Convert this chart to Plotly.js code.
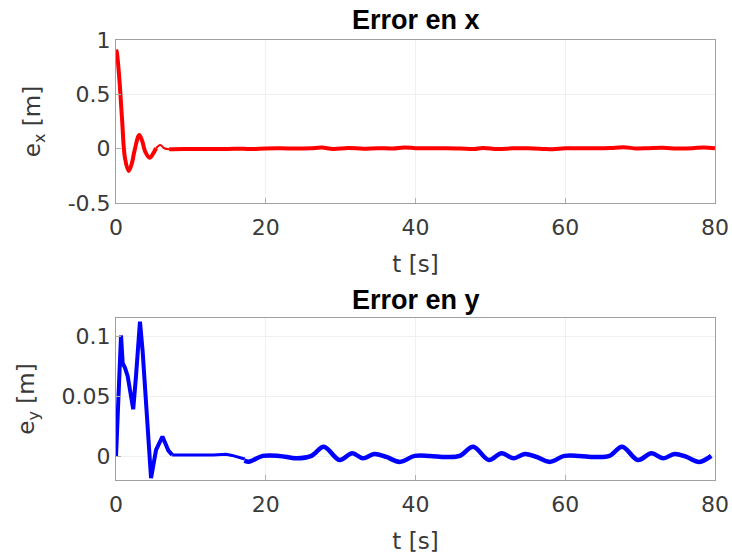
<!DOCTYPE html>
<html>
<head>
<meta charset="utf-8">
<script src="https://cdn.plot.ly/plotly-3.0.1.min.js"></script>
<style>html,body{margin:0;padding:0;background:#fff;}#chart{width:732px;height:558px;}</style>
</head>
<body>
<div id="chart"></div>
<script>
// ---- Error en x (red) ----
const exT1 = [0, 0.1, 0.44, 0.8, 1.2, 1.69, 2.1, 2.45, 3.1, 3.5, 3.9, 4.5, 5.0, 5.35];
const exV1 = [0.91, 0.89, 0.648, 0.28, -0.088, -0.205, -0.14, -0.027, 0.126, 0.07, -0.027, -0.083, -0.04, 0.004];
const exT2 = [5.35, 5.9, 6.45, 7.1];
const exV2 = [0.004, 0.034, 0.004, -0.006];
const exT3 = [7.1, 9, 11, 13, 15, 17, 18, 20, 22, 24, 26, 27.5, 29, 31, 33, 35, 37, 38.5, 40, 42, 44, 46, 47.8, 49, 51, 53, 55, 57, 58.3, 60, 62, 64, 66, 67.8, 69.5, 71, 73, 75, 77, 78.5, 80];
const exV3 = [-0.006, -0.004, -0.004, -0.003, -0.002, 0.0, -0.004, 0.002, 0.003, 0.001, 0.004, 0.010, -0.003, 0.006, 0.000, 0.005, 0.002, 0.012, 0.004, 0.003, 0.004, 0.002, -0.004, 0.006, -0.004, 0.004, 0.003, -0.002, -0.006, 0.003, 0.004, 0.003, 0.006, 0.013, 0.002, 0.004, 0.008, 0.002, 0.005, 0.012, 0.003];

// ---- Error en y (blue) ----
const eyT1 = [0, 0.67, 0.89, 1.2, 1.56, 2.3, 2.67, 3.2, 3.56, 4.1, 4.68, 5.35, 6.2, 7.0, 7.5];
const eyV1 = [0, 0.101, 0.078, 0.074, 0.067, 0.0395, 0.067, 0.1125, 0.0875, 0.0306, -0.018, 0.0056, 0.0167, 0.005, 0.0014];
const eyT2 = [7.5, 9, 11, 13, 14.7, 15.5, 16.5, 17.2];
const eyV2 = [0.0014, 0.0012, 0.0014, 0.0014, 0.002, 0.001, -0.001, -0.002];
const eyT3 = [17.15, 17.8, 19.6, 21.8, 24.1, 26.1, 27.75, 29.85, 31.55, 32.97, 34.5, 36.1, 37.9, 39.9, 41.9, 44.1, 45.9, 47.7, 49.8, 51.5, 53.1, 54.6, 56.15, 57.9, 59.9, 61.9, 63.9, 65.9, 67.6, 69.7, 71.5, 73.1, 74.6, 76.2, 77.9, 79.5];
const eyV3 = [-0.0033, -0.0042, 0.0006, 0.0006, -0.0014, 0.0006, 0.0083, -0.0028, 0.0028, -0.0014, 0.0022, -0.0003, -0.0044, 0.0006, 0.0006, -0.0003, 0.0006, 0.0083, -0.0028, 0.0028, -0.0014, 0.0022, -0.0003, -0.0044, 0.0006, 0.0006, -0.0003, 0.0006, 0.0083, -0.0028, 0.0028, -0.0014, 0.0022, -0.0003, -0.0044, 0.0006];

// ---- ticks ----
const xTickVals = [0, 20, 40, 60, 80];
const xTickText = ['0', '20', '40', '60', '80'];
const yxTickVals = [-0.5, 0, 0.5, 1];
const yxTickText = ['-0.5', '0', '0.5', '1'];
const yyTickVals = [0, 0.05, 0.1];
const yyTickText = ['0', '0.05', '0.1'];

const RED = '#ff0000', BLUE = '#0000ff';
const traces = [
  {x: exT1, y: exV1, mode: 'lines', line: {color: RED, width: 4, shape: 'spline'}, xaxis: 'x', yaxis: 'y'},
  {x: exT2, y: exV2, mode: 'lines', line: {color: RED, width: 2, shape: 'spline'}, xaxis: 'x', yaxis: 'y'},
  {x: exT3, y: exV3, mode: 'lines', line: {color: RED, width: 4, shape: 'spline'}, xaxis: 'x', yaxis: 'y'},
  {x: eyT1, y: eyV1, mode: 'lines', line: {color: BLUE, width: 4}, xaxis: 'x2', yaxis: 'y2'},
  {x: eyT2, y: eyV2, mode: 'lines', line: {color: BLUE, width: 3}, xaxis: 'x2', yaxis: 'y2'},
  {x: eyT3, y: eyV3, mode: 'lines', line: {color: BLUE, width: 4.5, shape: 'spline'}, xaxis: 'x2', yaxis: 'y2'}
];

const tickFont = {family: 'DejaVu Sans', size: 22, color: '#3a3a3a'};
const titleFont = {family: 'DejaVu Sans', size: 23, color: '#3a3a3a'};
function xax(anchor) {
  return {
    domain: [0, 1], anchor: anchor, range: [0, 80], tickvals: xTickVals, ticktext: xTickText,
    ticks: 'inside', ticklen: 5, tickcolor: '#b0b0b0', showgrid: true, gridcolor: '#f0f0f0',
    showline: true, linecolor: '#a0a0a0', linewidth: 1, mirror: true, zeroline: false,
    ticklabelstandoff: 5,
    tickfont: tickFont, title: {text: 't [s]', font: titleFont, standoff: 16}
  };
}
function yax(anchor, dom, rng, tv, tt, label) {
  return {
    domain: dom, anchor: anchor, range: rng, tickvals: tv, ticktext: tt,
    ticks: 'inside', ticklen: 5, tickcolor: '#b0b0b0', showgrid: true, gridcolor: '#f0f0f0',
    showline: true, linecolor: '#a0a0a0', linewidth: 1, mirror: true, zeroline: false,
    tickfont: tickFont, title: {text: label, font: titleFont, standoff: 20}
  };
}

const layout = {
  width: 732, height: 558,
  margin: {l: 116, r: 17, t: 40, b: 78},
  paper_bgcolor: '#ffffff', plot_bgcolor: '#ffffff',
  showlegend: false,
  xaxis: xax('y'),
  yaxis: yax('x', [0.6295, 1], [-0.5, 1], yxTickVals, yxTickText, 'e<sub>x</sub> [m]'),
  xaxis2: xax('y2'),
  yaxis2: yax('x2', [0, 0.368], [-0.0195, 0.1155], yyTickVals, yyTickText, 'e<sub>y</sub> [m]'),
  annotations: [
    {text: '<b>Error en x</b>', xref: 'paper', yref: 'paper', x: 0.5, y: 1.045, xanchor: 'center', yanchor: 'middle', showarrow: false,
     font: {family: 'Liberation Sans', size: 27, color: '#000000'}},
    {text: '<b>Error en y</b>', xref: 'paper', yref: 'paper', x: 0.5, y: 0.409, xanchor: 'center', yanchor: 'middle', showarrow: false,
     font: {family: 'Liberation Sans', size: 27, color: '#000000'}}
  ]
};

Plotly.newPlot('chart', traces, layout, {staticPlot: true, displayModeBar: false});
</script>
</body>
</html>
